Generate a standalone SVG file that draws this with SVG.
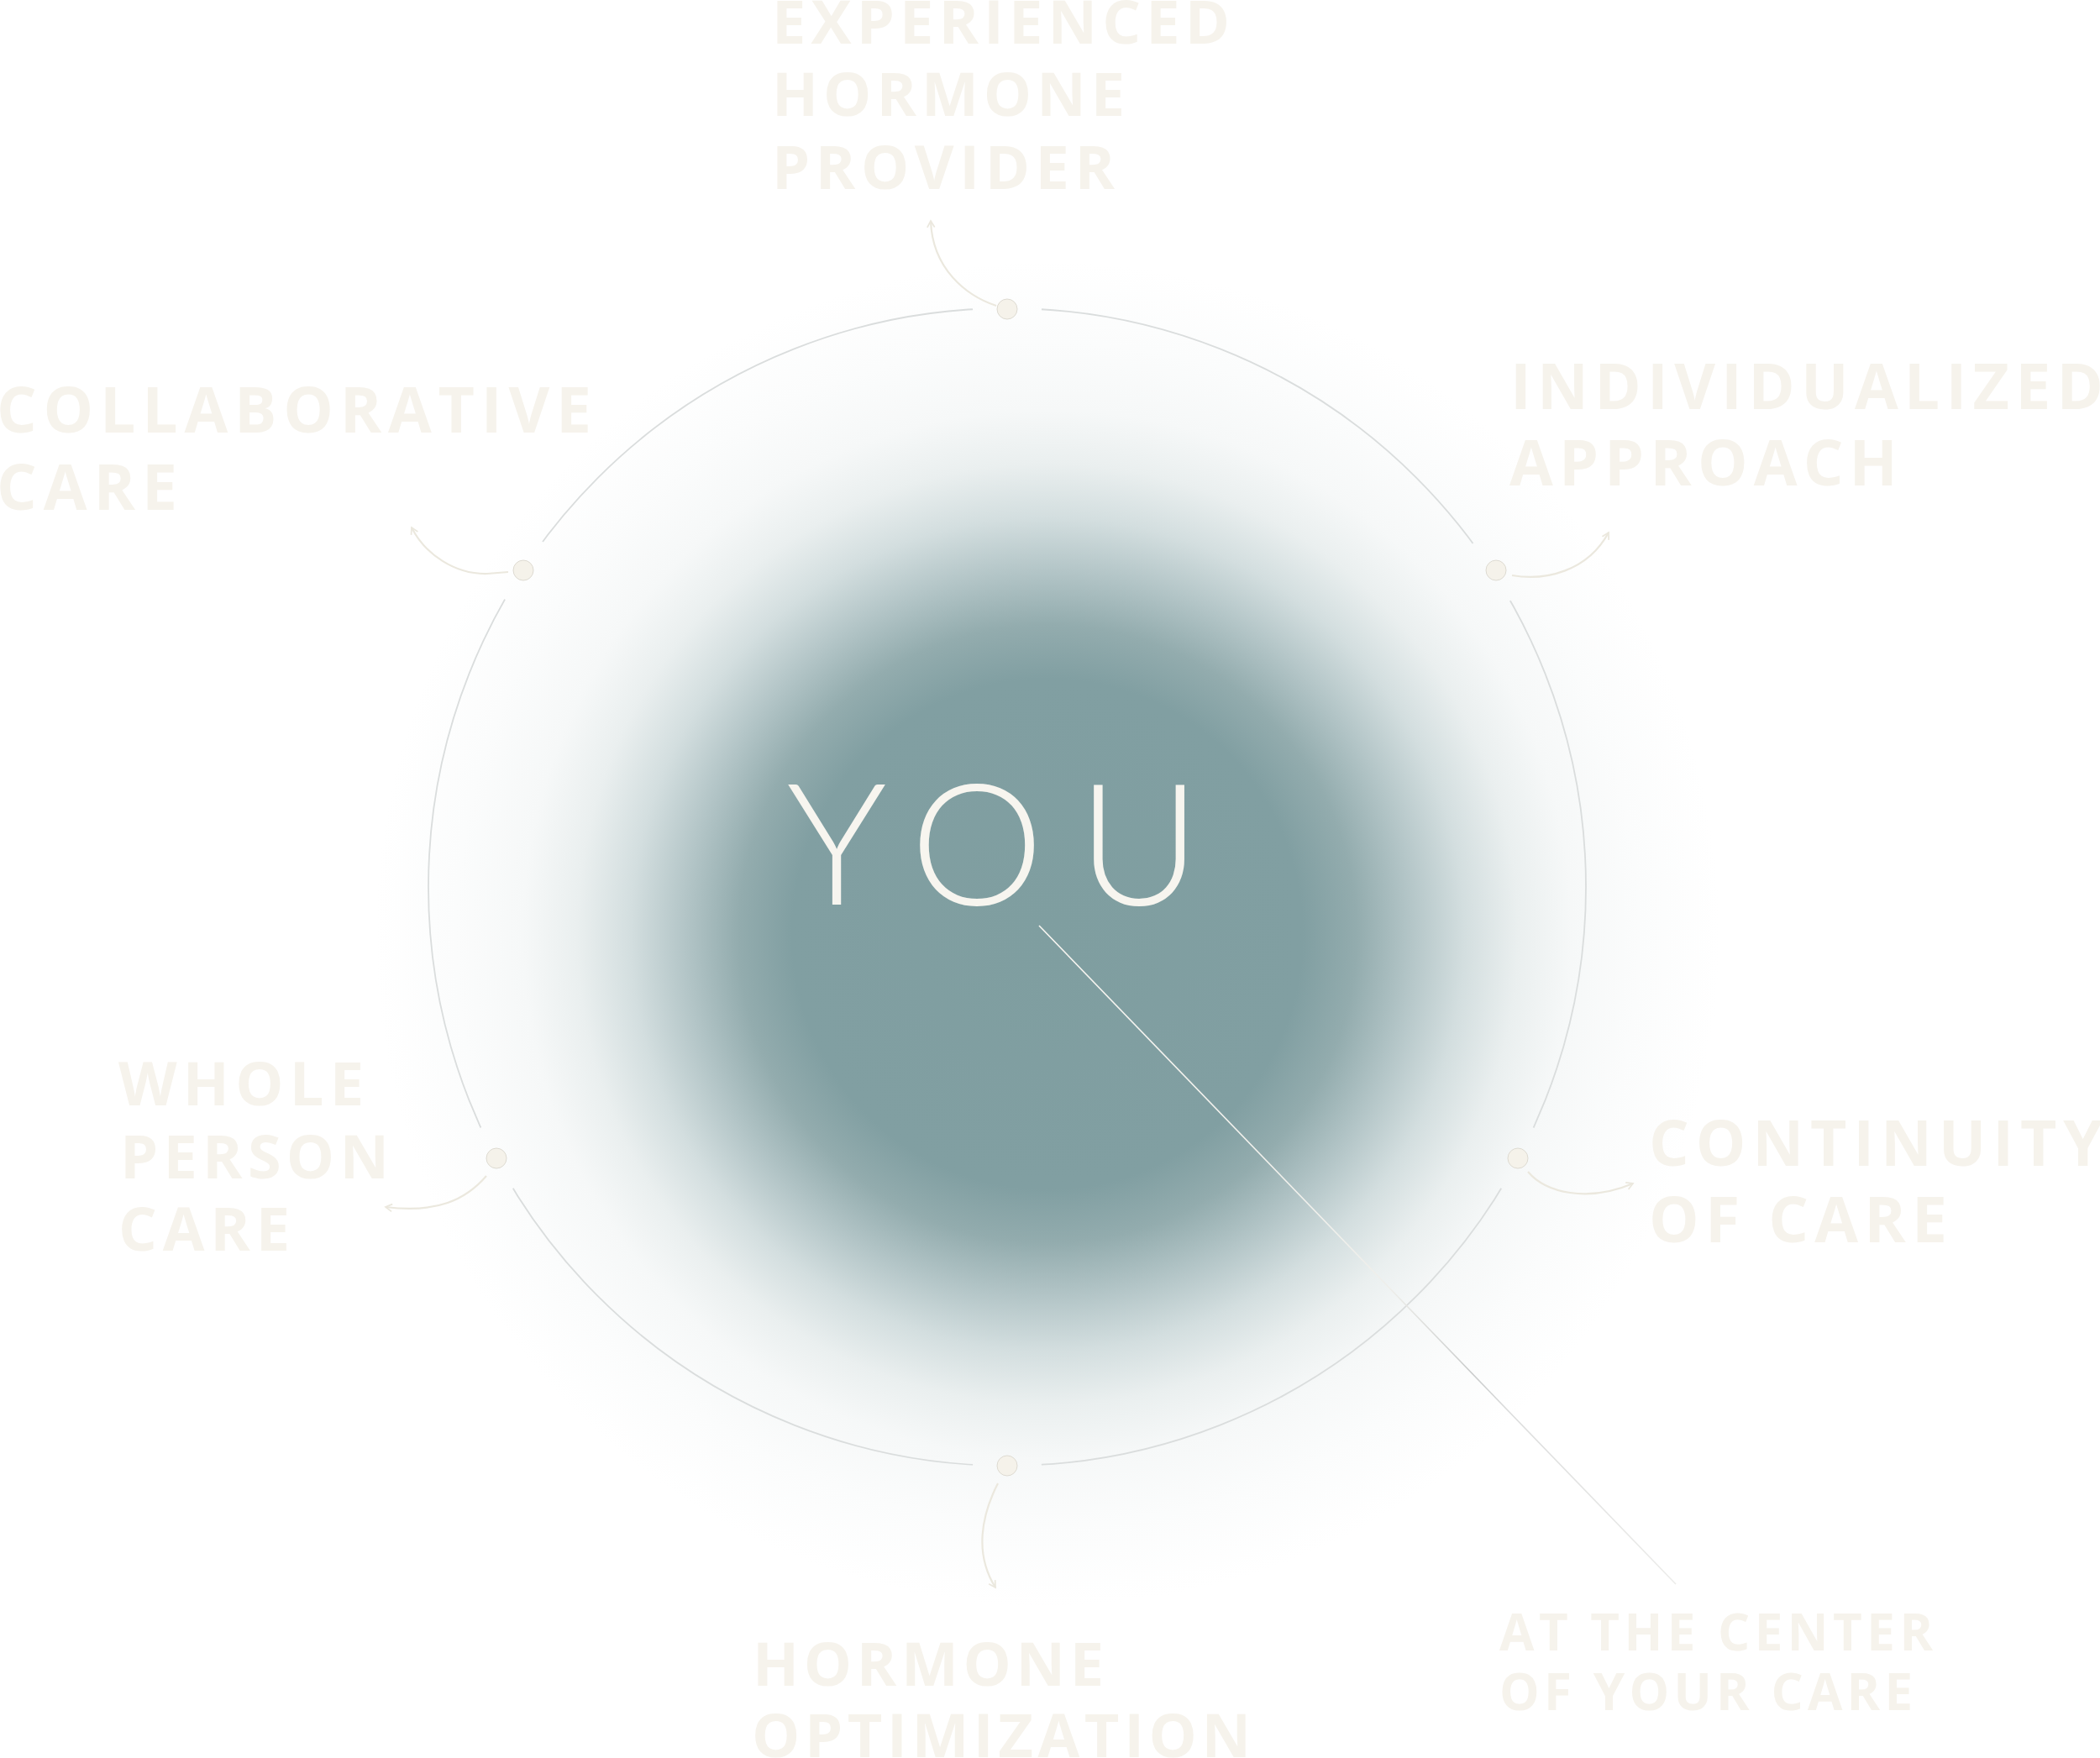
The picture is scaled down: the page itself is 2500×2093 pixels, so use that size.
<svg xmlns="http://www.w3.org/2000/svg" width="2500" height="2093" viewBox="0 0 2500 2093">
<style>
.lbl{font-family:"Open Sans","Liberation Sans",sans-serif;font-weight:700;fill:#f6f3ec}
.l72{font-size:72px}
.l75{font-size:75px}
.l60{font-size:60px}
.you{font-family:Lato,"Open Sans","Liberation Sans",sans-serif;font-weight:300;font-size:201px;fill:#f7f5ef;text-anchor:middle}
.dot{fill:#f5f2ea;stroke:#dedbd2;stroke-width:1}
.curve{fill:none;stroke:#ebe8de;stroke-width:2.2;marker-end:url(#arr)}
.ring{fill:none;stroke:#dadddd;stroke-width:1.8}
</style>
<defs>
<radialGradient id="glow" gradientUnits="userSpaceOnUse" cx="1247" cy="1112" r="800">
<stop offset="0" stop-color="#7f9ea0"/>
<stop offset="0.38" stop-color="#819fa2"/>
<stop offset="0.46" stop-color="#93acae"/>
<stop offset="0.54" stop-color="#b3c5c7"/>
<stop offset="0.62" stop-color="#d3dedf"/>
<stop offset="0.70" stop-color="#eaefef"/>
<stop offset="0.78" stop-color="#f6f8f8"/>
<stop offset="0.88" stop-color="#fbfcfc"/>
<stop offset="1" stop-color="#ffffff"/>
</radialGradient>
<linearGradient id="lineGrad" gradientUnits="userSpaceOnUse" x1="1237" y1="1102" x2="1995" y2="1886">
<stop offset="0" stop-color="#f9f7f2"/>
<stop offset="0.55" stop-color="#eeeeea"/>
<stop offset="0.68" stop-color="#c9cbcb"/>
<stop offset="0.74" stop-color="#dcdddd"/>
<stop offset="1" stop-color="#ececea"/>
</linearGradient>
<marker id="arr" viewBox="0 0 10 10" refX="8" refY="5" markerWidth="5" markerHeight="5" orient="auto" markerUnits="strokeWidth">
<path d="M1,1 L8,5 L1,9" fill="none" stroke="#ebe8de" stroke-width="1.6"/>
</marker>
<mask id="gaps" maskUnits="userSpaceOnUse" x="0" y="0" width="2500" height="2093">
<rect x="0" y="0" width="2500" height="2093" fill="#fff"/>
<circle cx="1199" cy="368" r="41" fill="#000"/>
<circle cx="623" cy="679" r="41" fill="#000"/>
<circle cx="1779" cy="679" r="41" fill="#000"/>
<circle cx="591" cy="1379" r="41" fill="#000"/>
<circle cx="1807" cy="1379" r="41" fill="#000"/>
<circle cx="1199" cy="1745" r="41" fill="#000"/>
</mask>
</defs>
<rect x="0" y="0" width="2500" height="2093" fill="#ffffff"/>
<circle id="glow-disc" cx="1247" cy="1112" r="800" fill="url(#glow)"/>
<circle id="ring" class="ring" cx="1199" cy="1056" r="689" mask="url(#gaps)"/>

<g id="connectors">
<path class="curve" d="M1186,364 C1150,352 1110,320 1108,263"/>
<path class="curve" d="M605,681 L580,683 C542,684 506,660 490,628"/>
<path class="curve" d="M1800,685 C1840,692 1890,680 1915,634"/>
<path class="curve" d="M579,1400 C555,1428 520,1445 459,1437"/>
<path class="curve" d="M1819,1395 C1840,1420 1890,1432 1944,1409"/>
<path class="curve" d="M1188,1766 C1168,1805 1160,1850 1185,1890"/>
<line x1="1237" y1="1102" x2="1995" y2="1886" stroke="url(#lineGrad)" stroke-width="1.6"/>
</g>

<g id="node-you">
<text class="you" x="996 1163 1356" y="1077">YOU</text>
</g>

<g id="node-experienced-hormone-provider">
<circle class="dot" cx="1199" cy="368" r="12"/>
<text class="lbl l72" x="919" y="52" textLength="545" lengthAdjust="spacing">EXPERIENCED</text>
<text class="lbl l72" x="919" y="138" textLength="420" lengthAdjust="spacing">HORMONE</text>
<text class="lbl l72" x="919" y="225" textLength="408" lengthAdjust="spacing">PROVIDER</text>
</g>

<g id="node-collaborative-care">
<circle class="dot" cx="623" cy="679" r="12"/>
<text class="lbl l75" x="-4" y="515" textLength="708" lengthAdjust="spacing">COLLABORATIVE</text>
<text class="lbl l75" x="-4" y="607" textLength="215" lengthAdjust="spacing">CARE</text>
</g>

<g id="node-individualized-approach">
<circle class="dot" cx="1781" cy="679" r="12"/>
<text class="lbl l75" x="1798" y="487" textLength="706" lengthAdjust="spacing">INDIVIDUALIZED</text>
<text class="lbl l75" x="1797" y="578" textLength="462" lengthAdjust="spacing">APPROACH</text>
</g>

<g id="node-whole-person-care">
<circle class="dot" cx="591" cy="1379" r="12"/>
<text class="lbl l72" x="141" y="1316" textLength="292" lengthAdjust="spacing">WHOLE</text>
<text class="lbl l72" x="143" y="1403" textLength="320" lengthAdjust="spacing">PERSON</text>
<text class="lbl l72" x="141" y="1489" textLength="204" lengthAdjust="spacing">CARE</text>
</g>

<g id="node-continuity-of-care">
<circle class="dot" cx="1807" cy="1379" r="12"/>
<text class="lbl l75" x="1963" y="1388" textLength="540" lengthAdjust="spacing">CONTINUITY</text>
<text class="lbl l75" x="1963" y="1479" textLength="355" lengthAdjust="spacing">OF CARE</text>
</g>

<g id="node-hormone-optimization">
<circle class="dot" cx="1199" cy="1745" r="12"/>
<text class="lbl l72" x="896" y="2007" textLength="418" lengthAdjust="spacing">HORMONE</text>
<text class="lbl l72" x="895" y="2092" textLength="594" lengthAdjust="spacing">OPTIMIZATION</text>
</g>

<g id="node-at-the-center">
<text class="lbl l60" x="1785" y="1965" textLength="516" lengthAdjust="spacing">AT THE CENTER</text>
<text class="lbl l60" x="1785" y="2036" textLength="492" lengthAdjust="spacing">OF YOUR CARE</text>
</g>
</svg>
